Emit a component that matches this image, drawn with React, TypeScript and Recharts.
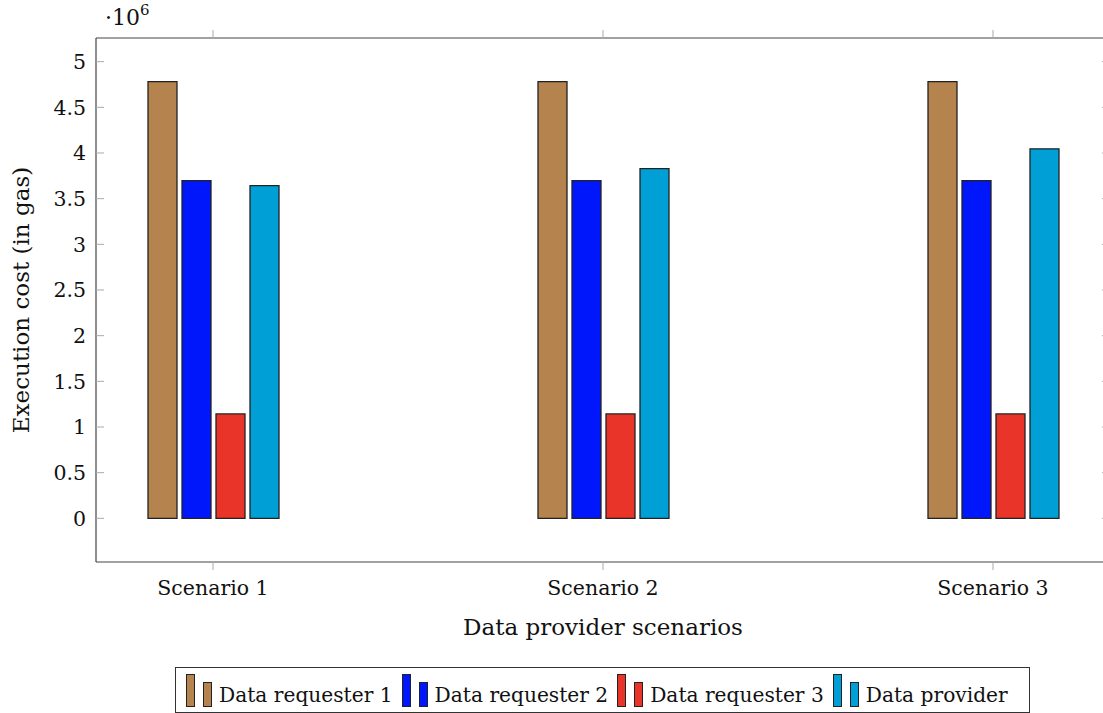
import { BarChart, Bar, XAxis, YAxis } from 'recharts'

// scenario positions on the x axis and their labels
const scenarioIds = [1, 2, 3]
const scenarioLabels = ['Scenario 1', 'Scenario 2', 'Scenario 3']

// execution cost per party, in gas
const requester1 = [4781000, 4781000, 4781000]
const requester2 = [3697000, 3697000, 3697000]
const requester3 = [1143000, 1143000, 1143000]
const provider = [3643000, 3828000, 4046000]

const yTicks = [0, 500000, 1000000, 1500000, 2000000, 2500000, 3000000, 3500000, 4000000, 4500000, 5000000]

const SERIES = [
  { key: 'r1', name: 'Data requester 1', color: '#b5834d', values: requester1 },
  { key: 'r2', name: 'Data requester 2', color: '#0016fb', values: requester2 },
  { key: 'r3', name: 'Data requester 3', color: '#e9342a', values: requester3 },
  { key: 'dp', name: 'Data provider', color: '#00a0d6', values: provider },
]

const data = scenarioIds.map((x, i) => {
  const row: Record<string, number> = { x }
  SERIES.forEach(s => { row[s.key] = s.values[i] })
  return row
})

const FONT = '"DejaVu Serif", serif'
const AXIS_COLOR = '#444'
const TICK_COLOR = '#aaa'
const Y_DOMAIN = [-478000, 5259000]
const X_DOMAIN = [0.7, 3.3]
const tickStyle = { fill: '#111', fontSize: 20.5, fontFamily: FONT }

const blank = () => ''

function LegendIcon({ color }: { color: string }) {
  return (
    <svg width={26} height={33} style={{ display: 'block' }}>
      <rect x={0.5} y={0.5} width={8} height={32} fill={color} stroke="#222" />
      <rect x={17.5} y={8.5} width={8} height={24} fill={color} stroke="#222" />
    </svg>
  )
}

export default function App() {
  return (
    <div style={{ position: 'absolute', left: 0, top: 0, width: 1103, height: 713, overflow: 'hidden', background: '#fff' }}>
      <BarChart
        width={1112}
        height={665}
        data={data}
        barSize={29}
        barGap={5}
        margin={{ top: 37, right: 1, left: 0, bottom: 33 }}
      >
        <XAxis
          dataKey="x"
          type="number"
          domain={X_DOMAIN}
          ticks={scenarioIds}
          allowDataOverflow
          height={70}
          tickFormatter={(v: number) => scenarioLabels[scenarioIds.indexOf(v)] ?? ''}
          tick={tickStyle}
          tickSize={8}
          tickMargin={10}
          axisLine={{ stroke: AXIS_COLOR, strokeWidth: 1.2 }}
          tickLine={{ stroke: TICK_COLOR }}
          label={{
            content: () => (
              <text x={603} y={635} textAnchor="middle" fontSize={23} fontFamily={FONT} fill="#111">
                Data provider scenarios
              </text>
            ),
          }}
        />
        <XAxis
          xAxisId="top"
          dataKey="x"
          type="number"
          orientation="top"
          domain={X_DOMAIN}
          ticks={scenarioIds}
          allowDataOverflow
          height={1}
          tickFormatter={blank}
          tickSize={8}
          axisLine={{ stroke: AXIS_COLOR, strokeWidth: 1.2 }}
          tickLine={{ stroke: TICK_COLOR }}
        />
        <YAxis
          type="number"
          domain={Y_DOMAIN}
          ticks={yTicks}
          allowDataOverflow
          width={96}
          tickFormatter={(v: number) => String(v / 1e6)}
          tick={tickStyle}
          tickSize={-8}
          tickMargin={18}
          axisLine={{ stroke: AXIS_COLOR, strokeWidth: 1.2 }}
          tickLine={{ stroke: TICK_COLOR }}
          label={{
            content: () => (
              <g>
                <text
                  x={21}
                  y={300}
                  transform="rotate(-90 21 300)"
                  textAnchor="middle"
                  dominantBaseline="central"
                  fontSize={23}
                  fontFamily={FONT}
                  fill="#111"
                >
                  Execution cost (in gas)
                </text>
                <text x={105} y={25} fontSize={22} fontFamily={FONT} fill="#111">
                  ·10<tspan dy={-10} fontSize={15}>6</tspan>
                </text>
              </g>
            ),
          }}
        />
        <YAxis
          yAxisId="right"
          orientation="right"
          type="number"
          domain={Y_DOMAIN}
          ticks={yTicks}
          allowDataOverflow
          width={1}
          tickFormatter={blank}
          tickSize={-8}
          axisLine={{ stroke: AXIS_COLOR, strokeWidth: 1.2 }}
          tickLine={{ stroke: TICK_COLOR }}
        />
        {SERIES.map(s => (
          <Bar
            key={s.key}
            dataKey={s.key}
            name={s.name}
            fill={s.color}
            stroke="#222"
            strokeWidth={1.3}
            isAnimationActive={false}
          />
        ))}
      </BarChart>

      <div
        style={{
          position: 'absolute',
          left: 175,
          top: 667,
          width: 855,
          height: 46,
          boxSizing: 'border-box',
          border: '1px solid #333',
          display: 'flex',
          alignItems: 'center',
          paddingLeft: 10,
          fontFamily: FONT,
          fontSize: 20.2,
          color: '#111',
        }}
      >
        {SERIES.map(s => (
          <div key={s.key} style={{ display: 'flex', alignItems: 'flex-end', marginRight: 9 }}>
            <LegendIcon color={s.color} />
            <span style={{ marginLeft: 7, lineHeight: '24px', whiteSpace: 'nowrap' }}>{s.name}</span>
          </div>
        ))}
      </div>
    </div>
  )
}
